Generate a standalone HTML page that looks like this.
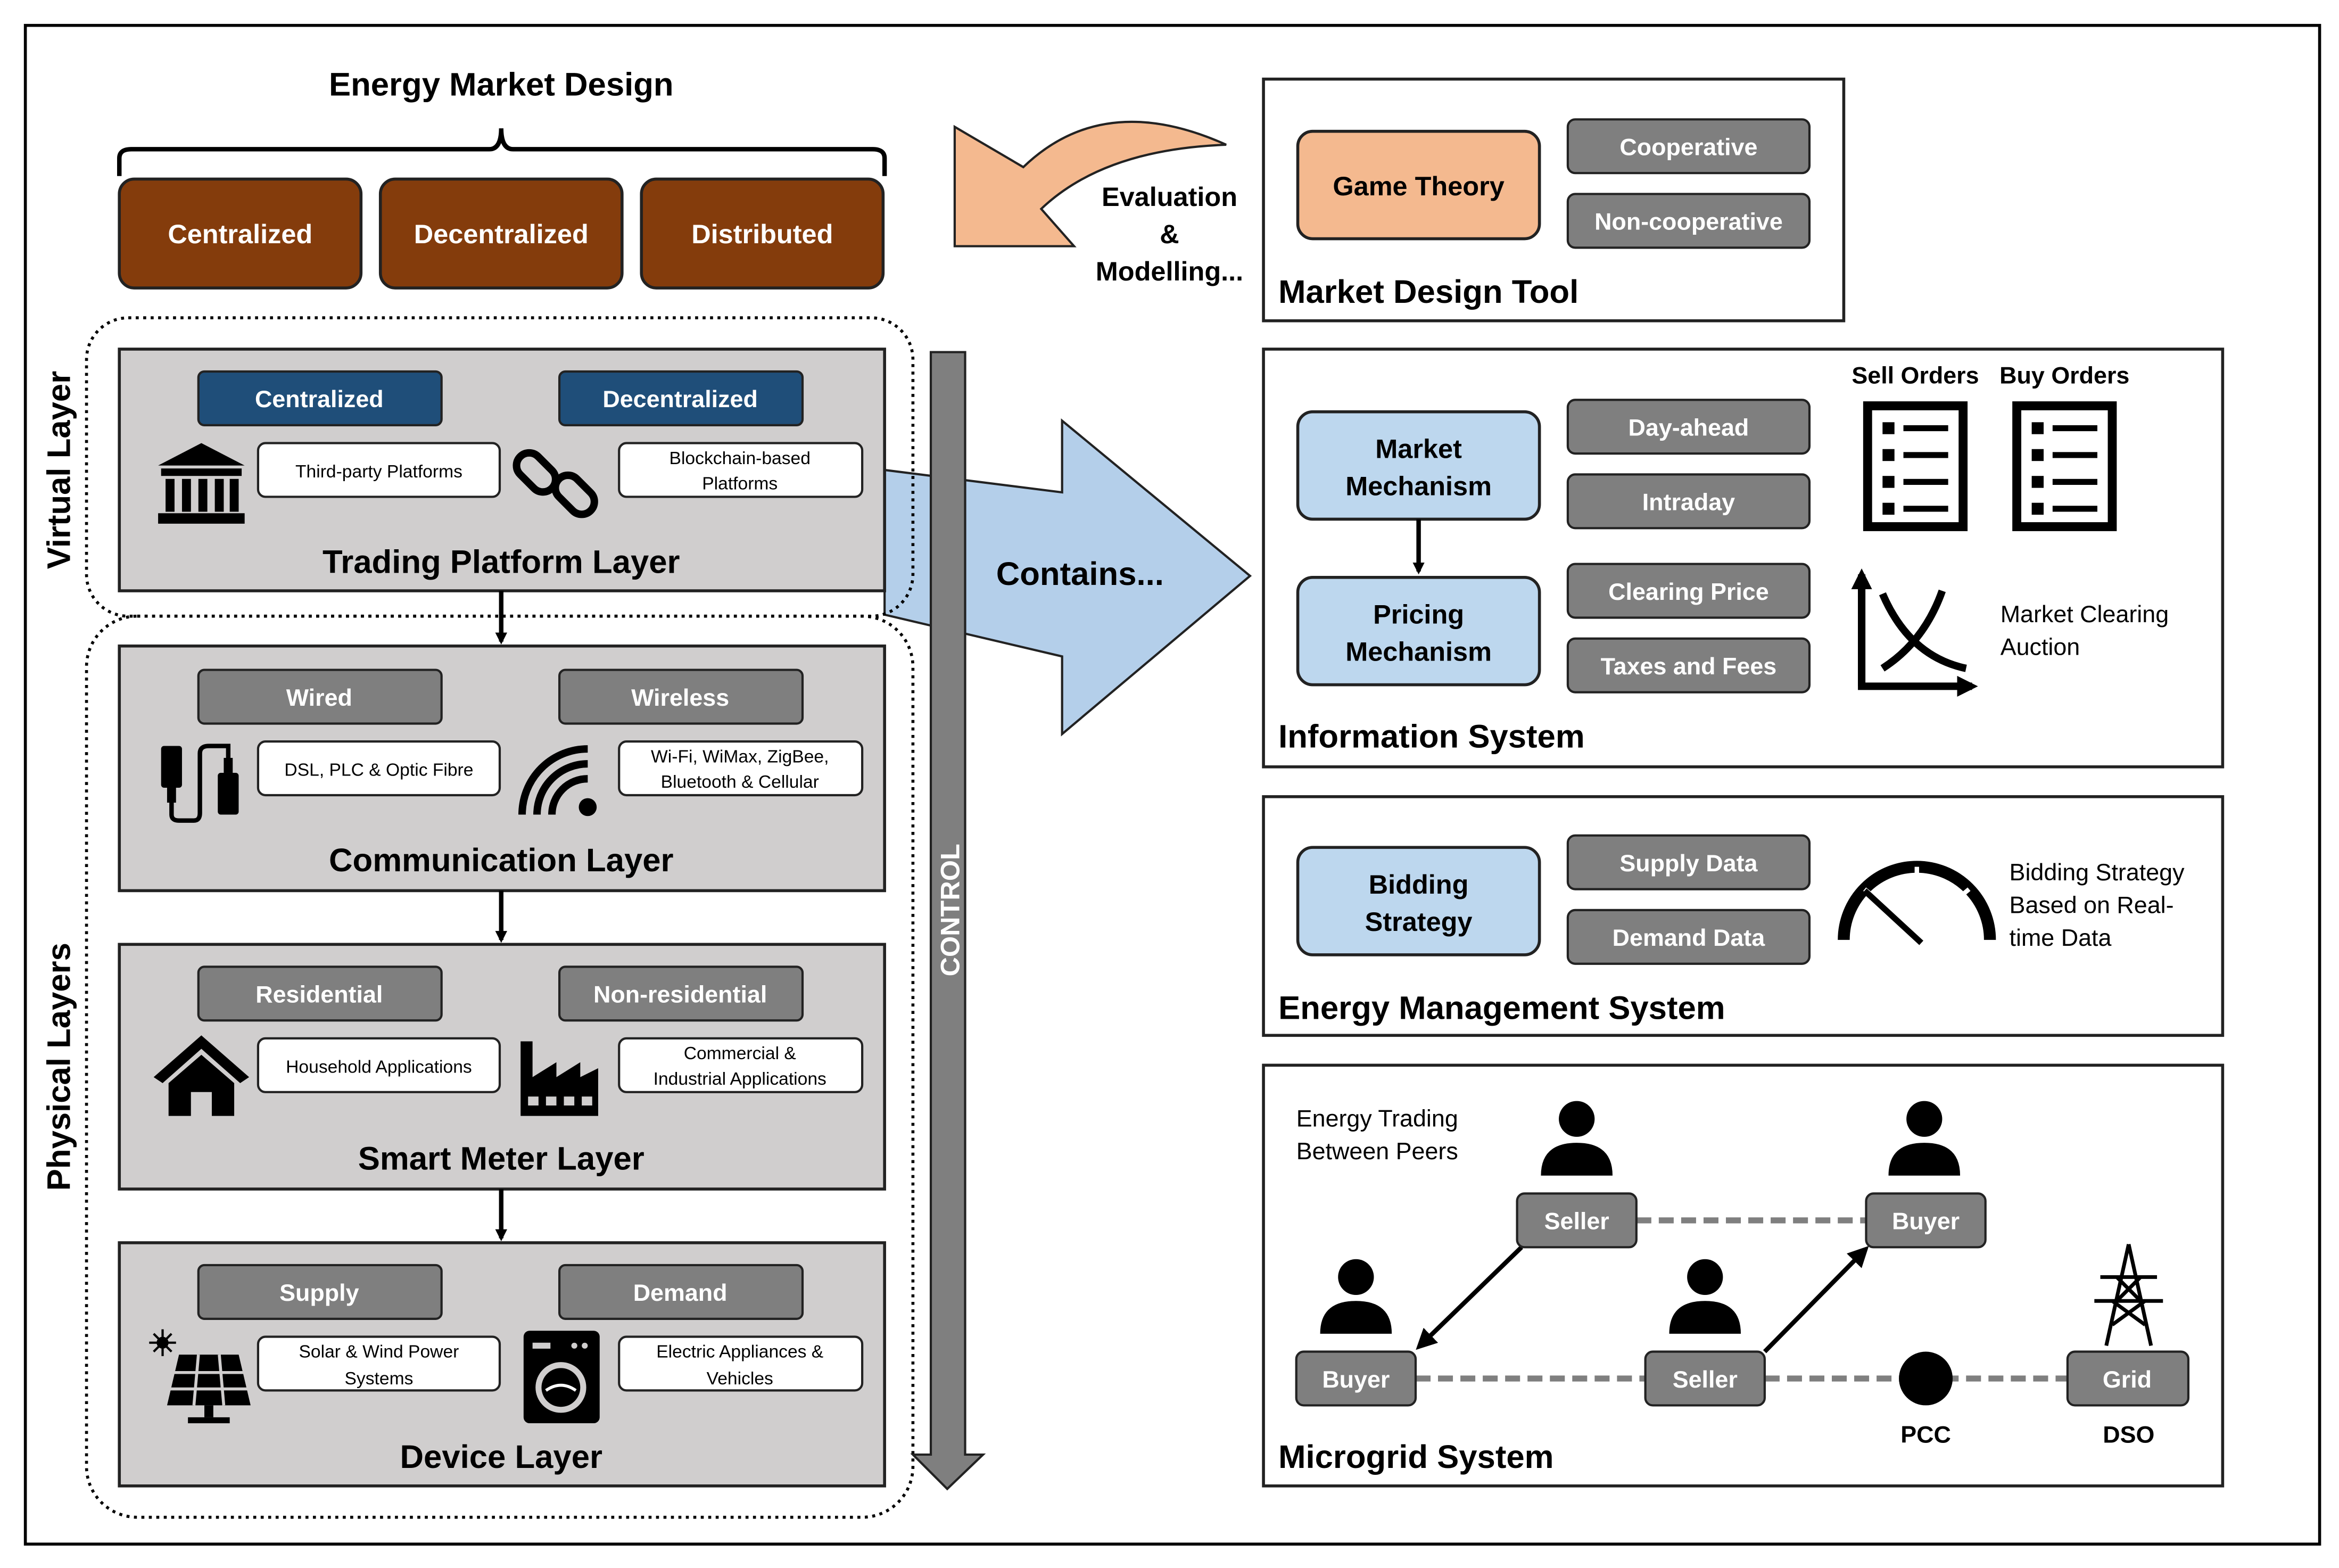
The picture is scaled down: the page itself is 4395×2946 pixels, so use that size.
<!DOCTYPE html>
<html><head><meta charset="utf-8"><style>
html,body{margin:0;padding:0;background:#fff}
svg{display:block}
text{font-family:"Liberation Sans",sans-serif}
</style></head><body>
<svg width="4395" height="2946" viewBox="0 0 1568 1051" xmlns="http://www.w3.org/2000/svg">
<defs>
<marker id="ah" markerWidth="8" markerHeight="8" refX="6" refY="4" orient="auto" markerUnits="userSpaceOnUse"><path d="M0,0 L8,4 L0,8 z" fill="#000"/></marker>
<marker id="ah2" markerWidth="14" markerHeight="14" refX="10" refY="7" orient="auto" markerUnits="userSpaceOnUse"><path d="M0,0 L14,7 L0,14 z" fill="#000"/></marker>
</defs>
<rect width="1568" height="1051" fill="#fff"/>
<rect x="17" y="17" width="1538" height="1018" fill="none" stroke="#000" stroke-width="2"/>

<text x="336" y="64" font-size="22" font-weight="bold" text-anchor="middle">Energy Market Design</text>
<path d="M80,118 V106 Q80,100 88,100 H328 Q336,100 336,86 Q336,100 344,100 H585 Q593,100 593,106 V118" fill="none" stroke="#000" stroke-width="3"/>
<g font-size="18" font-weight="bold" fill="#fff" text-anchor="middle">
<rect x="80" y="120" width="162" height="73" rx="10" fill="#843c0c" stroke="#222" stroke-width="2"/>
<rect x="255" y="120" width="162" height="73" rx="10" fill="#843c0c" stroke="#222" stroke-width="2"/>
<rect x="430" y="120" width="162" height="73" rx="10" fill="#843c0c" stroke="#222" stroke-width="2"/>
<text x="161" y="163">Centralized</text><text x="336" y="163">Decentralized</text><text x="511" y="163">Distributed</text>
</g>

<path d="M593,315 L712,330 L712,282 L838,386 L712,492 L712,440 L593,412 Z" fill="#b4cfea" stroke="#222" stroke-width="1.5"/>
<text x="724" y="392" font-size="22" font-weight="bold" text-anchor="middle">Contains...</text>

<rect x="58" y="213" width="554" height="200" rx="28" fill="none" stroke="#000" stroke-width="2" stroke-dasharray="2,3"/>
<rect x="58" y="413" width="554" height="604" rx="34" fill="none" stroke="#000" stroke-width="2" stroke-dasharray="2,3"/>
<text transform="translate(47,315) rotate(-90)" font-size="22" font-weight="bold" text-anchor="middle">Virtual Layer</text>
<text transform="translate(47,715) rotate(-90)" font-size="22" font-weight="bold" text-anchor="middle">Physical Layers</text>

<g stroke="#222" stroke-width="2">
<rect x="80" y="234" width="513" height="162" fill="#d0cece"/>
<rect x="80" y="433" width="513" height="164" fill="#d0cece"/>
<rect x="80" y="633" width="513" height="164" fill="#d0cece"/>
<rect x="80" y="833" width="513" height="163" fill="#d0cece"/>
</g>
<g font-size="16" font-weight="bold" fill="#fff" text-anchor="middle" stroke="#222" stroke-width="1.5">
<rect x="133" y="249" width="163" height="36" rx="4" fill="#1f4e79"/><rect x="375" y="249" width="163" height="36" rx="4" fill="#1f4e79"/>
<rect x="133" y="449" width="163" height="36" rx="4" fill="#7f7f7f"/><rect x="375" y="449" width="163" height="36" rx="4" fill="#7f7f7f"/>
<rect x="133" y="648" width="163" height="36" rx="4" fill="#7f7f7f"/><rect x="375" y="648" width="163" height="36" rx="4" fill="#7f7f7f"/>
<rect x="133" y="848" width="163" height="36" rx="4" fill="#7f7f7f"/><rect x="375" y="848" width="163" height="36" rx="4" fill="#7f7f7f"/>
</g>
<g font-size="16" font-weight="bold" fill="#fff" text-anchor="middle">
<text x="214" y="273">Centralized</text><text x="456" y="273">Decentralized</text>
<text x="214" y="473">Wired</text><text x="456" y="473">Wireless</text>
<text x="214" y="672">Residential</text><text x="456" y="672">Non-residential</text>
<text x="214" y="872">Supply</text><text x="456" y="872">Demand</text>
</g>
<g fill="#fff" stroke="#222" stroke-width="1.5">
<rect x="173" y="297" width="162" height="36" rx="5"/><rect x="415" y="297" width="163" height="36" rx="5"/>
<rect x="173" y="497" width="162" height="36" rx="5"/><rect x="415" y="497" width="163" height="36" rx="5"/>
<rect x="173" y="696" width="162" height="36" rx="5"/><rect x="415" y="696" width="163" height="36" rx="5"/>
<rect x="173" y="896" width="162" height="36" rx="5"/><rect x="415" y="896" width="163" height="36" rx="5"/>
</g>
<g font-size="12" text-anchor="middle">
<text x="254" y="320">Third-party Platforms</text>
<text x="496" y="311">Blockchain-based</text><text x="496" y="328">Platforms</text>
<text x="254" y="520">DSL, PLC &amp; Optic Fibre</text>
<text x="496" y="511">Wi-Fi, WiMax, ZigBee,</text><text x="496" y="528">Bluetooth &amp; Cellular</text>
<text x="254" y="719">Household Applications</text>
<text x="496" y="710">Commercial &amp;</text><text x="496" y="727">Industrial Applications</text>
<text x="254" y="910">Solar &amp; Wind Power</text><text x="254" y="928">Systems</text>
<text x="496" y="910">Electric Appliances &amp;</text><text x="496" y="928">Vehicles</text>
</g>
<g font-size="22" font-weight="bold" text-anchor="middle">
<text x="336" y="384">Trading Platform Layer</text>
<text x="336" y="584">Communication Layer</text>
<text x="336" y="784">Smart Meter Layer</text>
<text x="336" y="984">Device Layer</text>
</g>
<g stroke="#000" stroke-width="3" marker-end="url(#ah)">
<line x1="336" y1="396" x2="336" y2="430"/><line x1="336" y1="597" x2="336" y2="630"/><line x1="336" y1="797" x2="336" y2="830"/>
</g>

<g fill="#000">
<path d="M106,312 L135,297 L164,312 Z"/><rect x="108" y="314" width="54" height="5"/>
<rect x="111" y="321" width="6" height="22"/><rect x="122" y="321" width="6" height="22"/><rect x="133" y="321" width="6" height="22"/><rect x="144" y="321" width="6" height="22"/><rect x="154" y="321" width="6" height="22"/>
<rect x="106" y="344" width="58" height="7"/>
<g fill="none" stroke="#000" stroke-width="5"><rect x="351" y="302" width="17" height="30" rx="8.5" transform="rotate(-45 359 317)"/><rect x="377" y="317" width="17" height="30" rx="8.5" transform="rotate(-45 385 332)"/></g>
<rect x="108" y="500" width="14" height="28" rx="2"/><rect x="112" y="528" width="6" height="10"/>
<rect x="146" y="518" width="14" height="28" rx="2"/><rect x="150" y="508" width="6" height="10"/>
<path d="M115,538 V546 Q115,550 120,550 H130 Q134,550 134,545 V505 Q134,500 140,500 H153 V508" fill="none" stroke="#000" stroke-width="3"/>
<circle cx="394" cy="541" r="6"/>
<g fill="none" stroke="#000" stroke-width="5"><path d="M370,546 A24,24 0 0 1 394,522"/><path d="M360,546 A34,34 0 0 1 394,512"/><path d="M350,546 A44,44 0 0 1 394,502"/></g>
<path d="M103,722 L135,694 L167,722 L161,726 L135,703 L109,726 Z"/><path d="M113,726 L135,707 L157,726 V748 H142 V732 H128 V748 H113 Z"/>
<path d="M349,748 V698 H357 V722 L373,712 V722 L389,712 V722 L401,716 V748 Z"/>
<g fill="#d0cece"><rect x="354" y="735" width="7" height="6"/><rect x="366" y="735" width="7" height="6"/><rect x="378" y="735" width="7" height="6"/><rect x="390" y="735" width="7" height="6"/></g>
<circle cx="109" cy="900" r="4"/><g stroke="#000" stroke-width="1.5"><line x1="100" y1="900" x2="118" y2="900"/><line x1="109" y1="891" x2="109" y2="909"/><line x1="103" y1="894" x2="115" y2="906"/><line x1="115" y1="894" x2="103" y2="906"/></g>
<path d="M120,908 H160 L168,942 H112 Z"/><g stroke="#d0cece" stroke-width="2"><line x1="116" y1="920" x2="164" y2="920"/><line x1="114" y1="931" x2="166" y2="931"/><line x1="133" y1="908" x2="130" y2="942"/><line x1="147" y1="908" x2="150" y2="942"/></g>
<rect x="137" y="942" width="6" height="8"/><rect x="126" y="950" width="28" height="4"/>
<rect x="351" y="892" width="51" height="62" rx="4"/>
<circle cx="376" cy="930" r="17" fill="#d0cece"/><circle cx="376" cy="930" r="13" fill="#000"/><path d="M366,932 Q376,925 386,932" stroke="#fff" stroke-width="2" fill="none"/>
<g fill="#d0cece"><circle cx="385" cy="902" r="2"/><circle cx="392" cy="902" r="2"/><rect x="357" y="900" width="12" height="4"/></g>
</g>

<path d="M624,236 H647 V975 H659 L635,998 L612,975 H624 Z" fill="#7f7f7f" stroke="#222" stroke-width="1.5"/>
<text transform="translate(643,610) rotate(-90)" font-size="18" font-weight="bold" fill="#fff" text-anchor="middle">CONTROL</text>

<path d="M822,97 Q740,60 686,112 L640,85 L640,165 L720,165 L698,140 Q740,100 822,97 Z" fill="#f4b98f" stroke="#222" stroke-width="1.5"/>
<g font-size="18" font-weight="bold" text-anchor="middle"><text x="784" y="138">Evaluation</text><text x="784" y="163">&amp;</text><text x="784" y="188">Modelling...</text></g>

<g fill="#fff" stroke="#222" stroke-width="2">
<rect x="847" y="53" width="389" height="162"/>
<rect x="847" y="234" width="643" height="280"/>
<rect x="847" y="534" width="643" height="160"/>
<rect x="847" y="714" width="643" height="282"/>
</g>
<g font-size="22" font-weight="bold">
<text x="857" y="203">Market Design Tool</text>
<text x="857" y="501">Information System</text>
<text x="857" y="683">Energy Management System</text>
<text x="857" y="984">Microgrid System</text>
</g>
<g stroke="#222" stroke-width="2">
<rect x="870" y="88" width="162" height="72" rx="10" fill="#f4b98f"/>
<rect x="870" y="276" width="162" height="72" rx="10" fill="#bdd7ee"/>
<rect x="870" y="387" width="162" height="72" rx="10" fill="#bdd7ee"/>
<rect x="870" y="568" width="162" height="72" rx="10" fill="#bdd7ee"/>
</g>
<g font-size="18" font-weight="bold" text-anchor="middle">
<text x="951" y="131">Game Theory</text>
<text x="951" y="307">Market</text><text x="951" y="332">Mechanism</text>
<text x="951" y="418">Pricing</text><text x="951" y="443">Mechanism</text>
<text x="951" y="599">Bidding</text><text x="951" y="624">Strategy</text>
</g>
<line x1="951" y1="348" x2="951" y2="383" stroke="#000" stroke-width="3" marker-end="url(#ah)"/>
<g stroke="#222" stroke-width="1.5" fill="#7f7f7f">
<rect x="1051" y="80" width="162" height="36" rx="5"/><rect x="1051" y="130" width="162" height="36" rx="5"/>
<rect x="1051" y="268" width="162" height="36" rx="5"/><rect x="1051" y="318" width="162" height="36" rx="5"/>
<rect x="1051" y="378" width="162" height="36" rx="5"/><rect x="1051" y="428" width="162" height="36" rx="5"/>
<rect x="1051" y="560" width="162" height="36" rx="5"/><rect x="1051" y="610" width="162" height="36" rx="5"/>
</g>
<g font-size="16" font-weight="bold" fill="#fff" text-anchor="middle">
<text x="1132" y="104">Cooperative</text><text x="1132" y="154">Non-cooperative</text>
<text x="1132" y="292">Day-ahead</text><text x="1132" y="342">Intraday</text>
<text x="1132" y="402">Clearing Price</text><text x="1132" y="452">Taxes and Fees</text>
<text x="1132" y="584">Supply Data</text><text x="1132" y="634">Demand Data</text>
</g>

<g font-size="16" font-weight="bold" text-anchor="middle"><text x="1284" y="257">Sell Orders</text><text x="1384" y="257">Buy Orders</text></g>
<g fill="none" stroke="#000" stroke-width="6"><rect x="1252" y="272" width="64" height="81"/><rect x="1352" y="272" width="64" height="81"/></g>
<g fill="#000">
<rect x="1262" y="283" width="8" height="8"/><rect x="1276" y="285" width="30" height="4"/><rect x="1262" y="301" width="8" height="8"/><rect x="1276" y="303" width="30" height="4"/><rect x="1262" y="319" width="8" height="8"/><rect x="1276" y="321" width="30" height="4"/><rect x="1262" y="337" width="8" height="8"/><rect x="1276" y="339" width="30" height="4"/>
<rect x="1362" y="283" width="8" height="8"/><rect x="1376" y="285" width="30" height="4"/><rect x="1362" y="301" width="8" height="8"/><rect x="1376" y="303" width="30" height="4"/><rect x="1362" y="319" width="8" height="8"/><rect x="1376" y="321" width="30" height="4"/><rect x="1362" y="337" width="8" height="8"/><rect x="1376" y="339" width="30" height="4"/>
</g>
<g fill="none" stroke="#000" stroke-width="5"><path d="M1248,385 V460 H1322" marker-end="url(#ah2)"/><line x1="1248" y1="460" x2="1248" y2="385" marker-end="url(#ah2)"/>
<path d="M1262,398 Q1280,440 1318,448"/><path d="M1262,448 Q1290,430 1302,396"/></g>
<g font-size="16"><text x="1341" y="417">Market Clearing</text><text x="1341" y="439">Auction</text></g>
<path d="M1236,630 A49,49 0 0 1 1334,630" fill="none" stroke="#000" stroke-width="8"/>
<g stroke="#fff" stroke-width="3"><line x1="1250" y1="596" x2="1256" y2="601"/><line x1="1285" y1="581" x2="1285" y2="589"/><line x1="1320" y1="596" x2="1314" y2="601"/></g>
<line x1="1250" y1="597" x2="1288" y2="632" stroke="#000" stroke-width="4"/>
<g font-size="16"><text x="1347" y="590">Bidding Strategy</text><text x="1347" y="612">Based on Real-</text><text x="1347" y="634">time Data</text></g>

<g font-size="16"><text x="869" y="755">Energy Trading</text><text x="869" y="777">Between Peers</text></g>
<g stroke="#7f7f7f" stroke-width="4" stroke-dasharray="10,5">
<line x1="1097" y1="818" x2="1251" y2="818"/><line x1="949" y1="924" x2="1103" y2="924"/><line x1="1183" y1="924" x2="1386" y2="924"/>
</g>
<g fill="#000">
<circle cx="1057" cy="750" r="12"/><path d="M1033,788 Q1033,766 1057,766 Q1081,766 1081,788 Z"/>
<circle cx="1290" cy="750" r="12"/><path d="M1266,788 Q1266,766 1290,766 Q1314,766 1314,788 Z"/>
<circle cx="909" cy="856" r="12"/><path d="M885,894 Q885,872 909,872 Q933,872 933,894 Z"/>
<circle cx="1143" cy="856" r="12"/><path d="M1119,894 Q1119,872 1143,872 Q1167,872 1167,894 Z"/>
<circle cx="1291" cy="924" r="18"/>
</g>
<g fill="none" stroke="#000" stroke-width="2.5">
<path d="M1427,834 L1412,902 M1427,834 L1442,902 M1408,856 H1446 M1404,872 H1450 M1416,888 L1438,872 M1416,872 L1438,888 M1419,856 L1435,872 M1435,856 L1419,872"/>
</g>
<g stroke="#000" stroke-width="3" marker-end="url(#ah2)"><line x1="1020" y1="836" x2="952" y2="902"/><line x1="1183" y1="906" x2="1250" y2="838"/></g>
<g stroke="#222" stroke-width="1.5" fill="#7f7f7f">
<rect x="1017" y="800" width="80" height="36" rx="5"/><rect x="1251" y="800" width="80" height="36" rx="5"/>
<rect x="869" y="906" width="80" height="36" rx="5"/><rect x="1103" y="906" width="80" height="36" rx="5"/><rect x="1386" y="906" width="81" height="36" rx="5"/>
</g>
<g font-size="16" font-weight="bold" fill="#fff" text-anchor="middle">
<text x="1057" y="824">Seller</text><text x="1291" y="824">Buyer</text><text x="909" y="930">Buyer</text><text x="1143" y="930">Seller</text><text x="1426" y="930">Grid</text>
</g>
<g font-size="16" font-weight="bold" text-anchor="middle"><text x="1291" y="967">PCC</text><text x="1427" y="967">DSO</text></g>
</svg>
</body></html>
